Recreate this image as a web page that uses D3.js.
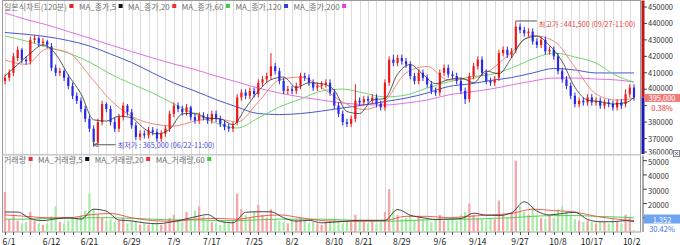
<!DOCTYPE html>
<html>
<head>
<meta charset="utf-8">
<script src="https://d3js.org/d3.v7.min.js"></script>
<style>
  body { margin: 0; background: #fff; }
  svg { display: block; font-family: "Noto Sans CJK KR", "Noto Sans", sans-serif; }
</style>
</head>
<body>
<svg id="svg" width="680" height="245"></svg>
<script>
// 120분봉, 가격은 천원 단위
const opens = [405,407,410,419,424,418,417,430,431,428, 429,426,413,410,411,407,402,396,393,388,
  382,376,368,380,391,388,380,376,383,390, 386,378,371,373,372,375,374,370,373,376,
  385,390,388,386,389,383,381,384,383,381, 385,382,379,377,376,380,395,398,396,399,
  397,404,406,408,414,411,405,399,400,399, 402,408,407,404,401,402,403,404,398,390,
  385,380,379,382,393,392,394,393,395,391, 389,404,418,416,419,417,415,408,405,410,
  407,403,399,398,410,413,409,408,405,399, 394,408,414,418,410,405,404,407,422,424,
  421,424,438,436,434,435,429,427,430,423, 424,420,411,406,402,396,391,393,392,395,
  392,393,390,392,391,389,392,391,397,401];
const highs = [409,412,422,426,425,420,432,433,432,431, 430,428,415,413,412,409,404,398,395,390,
  384,378,382,393,392,390,383,385,392,391, 388,380,375,375,377,377,376,375,378,387,
  392,392,390,391,390,385,386,386,385,387, 387,384,381,379,380,397,400,400,401,401,
  406,408,410,422,416,413,407,402,402,404, 410,410,409,406,404,405,406,406,400,392,
  387,382,384,403,395,396,396,397,397,393, 406,420,421,421,421,419,417,410,412,412,
  409,405,401,412,415,415,411,410,407,401, 410,416,420,420,412,407,408,424,426,426,
  425,441.5,440,438,437,437,431,432,432,426, 426,422,413,408,404,398,395,395,397,397,
  395,395,394,394,393,394,394,400,403,403];
const lows = [403,405,408,417,416,415,415,428,426,426, 425,411,408,408,405,400,394,391,386,380,
  374,365,366,378,386,378,374,374,381,384, 376,369,369,370,370,372,368,368,371,374,
  383,386,384,384,381,379,379,381,379,379, 380,377,375,374,374,378,393,394,394,395,
  395,402,404,406,409,403,397,397,397,397, 400,405,402,399,399,400,401,396,388,383,
  378,377,377,380,390,390,391,391,389,387, 387,402,414,414,415,413,406,403,403,405,
  401,397,396,396,408,407,406,403,397,391, 392,406,412,408,403,402,402,405,420,419,
  419,422,434,432,432,427,425,425,421,421, 418,409,404,400,394,389,389,390,390,390,
  390,388,388,389,387,387,388,389,395,393];
const closes = [407,410,420,424,418,417,430,431,428,429, 427,413,410,411,407,402,396,393,388,382,
  376,368,380,391,388,380,376,383,390,386, 378,371,373,372,375,374,370,373,376,385,
  390,388,386,389,383,381,384,383,381,385, 382,379,377,376,378,395,398,396,399,397,
  404,406,408,414,411,405,399,400,399,402, 408,407,404,401,402,403,404,398,390,385,
  380,379,382,393,392,394,393,395,391,389, 404,418,416,419,417,415,408,405,410,407,
  403,399,398,410,413,409,408,405,399,394, 408,414,418,410,405,404,406,422,424,421,
  423,438,436,434,435,429,427,430,423,424, 420,411,406,402,396,391,393,392,395,392,
  393,390,392,391,389,392,390,397,401,395];
// 거래량, 천주 단위
const volumes = [28,9,12,8,6,7,14,8,6,5, 6,11,18,7,6,8,9,10,12,15,
  27,16,12,10,8,9,7,8,10,6, 8,7,5,6,5,6,7,5,6,10,
  12,8,7,14,9,15,18,11,8,7, 6,5,7,6,8,27,16,12,10,14,
  19,12,10,16,9,8,7,6,8,9, 10,8,6,7,6,5,7,8,9,7,
  6,8,7,12,8,7,6,8,6,7, 14,30,16,12,9,10,12,8,11,9,
  8,7,9,12,8,9,10,8,12,14, 20,12,10,9,8,10,9,22,12,10,
  14,50,18,14,12,18,11,10,9,12, 10,16,18,14,12,9,8,7,8,7,
  6,8,7,6,9,7,6,12,10,1.352];

// 이동평균: ma5 는 3봉마다, 나머지는 5봉마다, 마지막 값은 마지막 봉
const ma5 = [408,415,421.8,427,421.4,408.6,397.2,381.4,380.6,383.6,382.6,376,372.8,375.6,385,385.4,382.4,382,378.4,388.6,
  398.8,405.8,407.4,401,404,403.4,399.4,386.4,385.2,393.4,394.4,409.2,415,409,403.4,405.8,406.8,404,411,409.4,
  419.2,430.4,432.2,426.6,416.8,401.2,393.4,392.4,391,391.8,395];
const ma20 = [417.8,415.1,424.6,422.3,408.3,393.4,383.5,379,377.6,380.7,382.2,380,392.2,405.6,407.4,401,392.2,387.7,392.8,409.9,
  413.8,405.6,406.2,411.7,422.6,432.7,429.3,413.5,397.1,393.4,394.6];
const ma60 = [432.4,429.3,425.7,422,416.5,409.2,403.2,397.7,391,384.9,379.4,376.4,382.5,389.2,394,398.9,400.1,397.7,395.3,396.5,
  400.7,404.4,407.4,408.9,412.9,418.4,422,419.6,415.9,408,404.4];
const ma120 = [434.5,433.4,431.9,429.6,426.3,421.4,416.2,409.9,403.8,398.9,393.7,389.2,385.2,384.6,385.2,386.7,388.6,390.4,392.5,394.6,
  397.7,401.6,403.2,405.3,407.1,409.9,412.6,411.7,409.9,409.9,409.9];
const ma200 = [446.4,442.4,439.1,435.1,431.1,426.9,422.9,419,415.3,412,408,404.4,400.7,397.7,395.3,393.4,391.6,390.7,390.4,391.6,
  393.4,396.5,398.3,400.1,402.6,405,406.8,406.8,406.2,405.6,404.4];
const volMa5 = [14,14,9.4,8,9.2,10,9,16,14.6,8.4,7.8,6.4,5.8,6.8,8.6,10.6,12.2,7.4,6.4,13.8,
  14.2,14.2,10,7.6,8.2,6.4,7,7.6,8.2,8.2,8.2,15.8,11.8,10,8.8,9,9.4,13.2,11.8,11.6,
  13.4,21.2,14.6,12,13,13.8,8.8,7.2,7.2,8,7.3];
const volMa20 = [12,11,10,10,12,13,10,8,7.5,9,9.5,9,11,12,10,8,7.5,7.5,8,11,
  11,10,11,12,13,16,15,14,11,9,8];
const volMa60 = [9,9,9.5,9.5,10,10,9.5,9,8.5,8.5,8,8,8.5,9,9,9,8.5,8,7.5,8,
  8.5,9,9,9.5,10,11,11.5,11.5,11,10.5,10];

const dateLabels = ["6/1","6/12","6/21","6/29","7/9","7/17","7/25","8/2","8/10","8/21","8/29","9/6","9/14","9/27","10/8","10/17","10/25"];
const dateBars = [0,11,20,30,40,49,59,68,78,85,94,103,112,122,131,139,149];
const priceTicks = [360,370,380,390,400,410,420,430,440,450];
const volTicks = [10,20,30,40,50];

const svg = d3.select("#svg");
const N = closes.length;
const L = 2.5, R = 640.5, axisX = 643;
const pTop = 0.5, pBot = 154, vTop = 155.5, vBot = 232;

const x = d3.scaleLinear().domain([0, N - 1]).range([5, 634]);
const y = d3.scaleLinear().domain([360, 450]).range([155, 7]);
const vy = d3.scaleLinear().domain([0, 50]).range([vBot, 160.7]);
const bw = 2.2;

svg.append("rect").attr("width", 680).attr("height", 245).attr("fill", "#fff");

const defs = svg.append("defs");
defs.append("clipPath").attr("id", "pclip").append("rect")
  .attr("x", L).attr("y", pTop).attr("width", R - L).attr("height", pBot - pTop);
defs.append("clipPath").attr("id", "vclip").append("rect")
  .attr("x", L).attr("y", vTop).attr("width", R - L).attr("height", vBot - vTop);
defs.append("clipPath").attr("id", "aclip").append("rect")
  .attr("x", 640).attr("y", 0).attr("width", 40).attr("height", pBot + 0.5);
defs.append("clipPath").attr("id", "xclip").append("rect")
  .attr("x", 0).attr("y", 232).attr("width", 641).attr("height", 13);
defs.append("marker").attr("id", "arr").attr("viewBox", "0 0 6 6").attr("refX", 1).attr("refY", 3)
  .attr("markerWidth", 5).attr("markerHeight", 5).attr("orient", "auto")
  .append("path").attr("d", "M6,0L0,3L6,6").attr("fill", "none").attr("stroke", "#555");

// vertical grid
const gridBars = d3.range(0, N, 2);
svg.append("g").selectAll("line").data(gridBars).join("line")
  .attr("x1", i => Math.round(x(i)) + 0.5).attr("x2", i => Math.round(x(i)) + 0.5)
  .attr("y1", pTop).attr("y2", vBot)
  .attr("stroke", "#dcdcdc").attr("stroke-width", 1);

// frames
svg.append("rect").attr("x", L).attr("y", pTop).attr("width", R - L).attr("height", vBot - pTop)
  .attr("fill", "none").attr("stroke", "#9a9a9a");
svg.append("rect").attr("x", L).attr("y", pBot).attr("width", R - L).attr("height", vTop - pBot)
  .attr("fill", "#c8c8c8");

// price panel
const pg = svg.append("g").attr("clip-path", "url(#pclip)");
const maLine = (arr, step) => d3.line()
  .x((d, k) => x(Math.min(k * step, N - 1))).y(d => y(d))
  .curve(d3.curveMonotoneX)(arr);

[[ma200, 5, "#e46ee4"], [ma120, 5, "#4a56cc"], [ma60, 5, "#6fd66f"], [ma20, 5, "#f08a78"]]
  .forEach(([arr, step, c]) => {
    pg.append("path").attr("d", maLine(arr, step)).attr("fill", "none").attr("stroke", c).attr("stroke-width", 1);
  });

const up = i => closes[i] >= opens[i];
const candles = pg.append("g").selectAll("g").data(d3.range(N)).join("g");
candles.append("line")
  .attr("x1", i => x(i)).attr("x2", i => x(i))
  .attr("y1", i => y(highs[i])).attr("y2", i => y(lows[i]))
  .attr("stroke", i => up(i) ? "#f01818" : "#2828e8").attr("stroke-width", 1);
candles.append("rect")
  .attr("x", i => x(i) - bw / 2).attr("width", bw)
  .attr("y", i => y(Math.max(opens[i], closes[i])))
  .attr("height", i => Math.max(1, Math.abs(y(opens[i]) - y(closes[i]))))
  .attr("fill", i => up(i) ? "#f01818" : "#2828e8");

pg.append("path").attr("d", maLine(ma5, 3)).attr("fill", "none").attr("stroke", "#333").attr("stroke-width", 0.8);

// high / low marks
const hiIdx = d3.maxIndex(highs), loIdx = d3.minIndex(lows);
svg.append("line").attr("x1", x(hiIdx)).attr("x2", x(hiIdx) + 21)
  .attr("y1", y(highs[hiIdx])).attr("y2", y(highs[hiIdx])).attr("stroke", "#555");
svg.append("text").attr("x", x(hiIdx) + 23).attr("y", y(highs[hiIdx]) + 3)
  .attr("dominant-baseline", "central").attr("font-size", 7.2).attr("fill", "#e8403c")
  .text("최고가 : 441,500 (09/27-11:00)");
svg.append("line").attr("x1", x(loIdx) + 1).attr("x2", x(loIdx) + 22)
  .attr("y1", y(lows[loIdx]) - 2).attr("y2", y(lows[loIdx]) - 2).attr("stroke", "#555")
  .attr("marker-start", "url(#arr)");
svg.append("line").attr("x1", x(loIdx)).attr("x2", x(loIdx))
  .attr("y1", y(lows[loIdx]) - 7).attr("y2", y(lows[loIdx]) - 2).attr("stroke", "#555");
svg.append("text").attr("x", x(loIdx) + 24).attr("y", y(lows[loIdx]) - 2)
  .attr("dominant-baseline", "central").attr("font-size", 7.2).attr("fill", "#4848e0")
  .text("최저가 : 365,000 (06/22-11:00)");

// volume panel
const vg = svg.append("g").attr("clip-path", "url(#vclip)");
vg.selectAll("rect").data(d3.range(N)).join("rect")
  .attr("x", i => x(i) - 1.1).attr("width", 2.2)
  .attr("y", i => vy(volumes[i])).attr("height", i => vBot - vy(volumes[i]))
  .attr("fill", i => up(i) ? "#f4a4a4" : "#a6eca6");
const vLine = (arr, step) => d3.line()
  .x((d, k) => x(Math.min(k * step, N - 1))).y(d => vy(d))
  .curve(d3.curveMonotoneX)(arr);
[[volMa60, 5, "#3ccf3c"], [volMa20, 5, "#ee4a4a"], [volMa5, 3, "#333"]].forEach(([arr, step, c]) => {
  vg.append("path").attr("d", vLine(arr, step)).attr("fill", "none").attr("stroke", c).attr("stroke-width", 0.9);
});

// legends
function legend(items, ly) {
  let lx = 4;
  const g = svg.append("g");
  items.forEach(([label, c]) => {
    const t = g.append("text").attr("x", lx).attr("y", ly).attr("dominant-baseline", "central")
      .attr("font-size", 8).attr("fill", "#707070").text(label);
    lx += t.node().getComputedTextLength() + 2.5;
    g.append("rect").attr("x", lx).attr("y", ly - 2).attr("width", 4).attr("height", 4).attr("fill", c);
    lx += 9.5;
  });
}
legend([["일본식차트(120분)", "#ee1c1c"], ["MA_종가,5", "#111"], ["MA_종가,20", "#ee3030"],
  ["MA_종가,60", "#3ccf3c"], ["MA_종가,120", "#3040d0"], ["MA_종가,200", "#e040e0"]], 6);
legend([["거래량", "#ee3030"], ["MA_거래량,5", "#111"], ["MA_거래량,20", "#ee3030"], ["MA_거래량,60", "#3ccf3c"]], 159);

// right axis
const curY = y(closes[N - 1]);
const curV = Math.min(vy(volumes[N - 1]), vBot - 13);
svg.append("line").attr("x1", axisX).attr("x2", axisX).attr("y1", pTop).attr("y2", curY)
  .attr("stroke", "#c01818").attr("stroke-width", 3);
svg.append("line").attr("x1", axisX).attr("x2", axisX).attr("y1", curY).attr("y2", pBot)
  .attr("stroke", "#1818b8").attr("stroke-width", 3);
svg.append("line").attr("x1", axisX).attr("x2", axisX).attr("y1", vTop).attr("y2", vBot)
  .attr("stroke", "#555").attr("stroke-width", 1);

const pAxis = svg.append("g").attr("clip-path", "url(#aclip)");
priceTicks.forEach(t => {
  const ty = Math.min(y(t), 152);
  pAxis.append("line").attr("x1", axisX).attr("x2", axisX + 4).attr("y1", ty).attr("y2", ty).attr("stroke", "#444");
  if (ty > curY - 7 && ty < curY + 16) return;   // 현재가 표시에 가려짐
  const ly = (ty < curY && ty > curY - 12) ? curY - 10 : ty - 0.5;  // 박스 바로 위면 살짝 올림
  pAxis.append("text").attr("x", axisX + 5).attr("y", ly).attr("dominant-baseline", "central")
    .attr("font-size", 7.5).attr("fill", "#333").text(d3.format("d")(t * 1000));
});
const vAxis = svg.append("g");
volTicks.forEach(t => {
  const ty = vy(t);
  vAxis.append("line").attr("x1", axisX).attr("x2", axisX + 4).attr("y1", ty).attr("y2", ty).attr("stroke", "#444");
  if (ty > curV - 8 && ty < curV + 16) return;
  vAxis.append("text").attr("x", axisX + 5).attr("y", ty + 1).attr("dominant-baseline", "central")
    .attr("font-size", 7.5).attr("fill", "#333").text(d3.format("d")(t * 1000));
});

// panel close icon
svg.append("rect").attr("x", 673.5).attr("y", 150.5).attr("width", 6).attr("height", 6)
  .attr("fill", "#eee").attr("stroke", "#888");
svg.append("path").attr("d", "M675,152L678,155M678,152L675,155").attr("stroke", "#555").attr("stroke-width", 0.8);

// current price / volume boxes
svg.append("rect").attr("x", 644).attr("y", curY - 3.5).attr("width", 36).attr("height", 8).attr("fill", "#f07a78");
svg.append("text").attr("x", 662).attr("y", curY + 0.5).attr("text-anchor", "middle").attr("dominant-baseline", "central")
  .attr("font-size", 7.5).attr("fill", "#fff").text(d3.format(",")(closes[N - 1] * 1000));
svg.append("text").attr("x", 662).attr("y", curY + 10).attr("text-anchor", "middle").attr("dominant-baseline", "central")
  .attr("font-size", 7.5).attr("fill", "#e83030").text("0.38%");

svg.append("rect").attr("x", 644).attr("y", curV - 4.5).attr("width", 36).attr("height", 9).attr("fill", "#6fa4f2");
svg.append("text").attr("x", 662).attr("y", curV).attr("text-anchor", "middle").attr("dominant-baseline", "central")
  .attr("font-size", 7.5).attr("fill", "#fff").text(d3.format(",")(Math.round(volumes[N - 1] * 1000)));
svg.append("text").attr("x", 662).attr("y", curV + 9.5).attr("text-anchor", "middle").attr("dominant-baseline", "central")
  .attr("font-size", 7.5).attr("fill", "#3a78e0").text("30.42%");

// x axis
const xg = svg.append("g");
gridBars.forEach(i => {
  xg.append("line").attr("x1", Math.round(x(i)) + 0.5).attr("x2", Math.round(x(i)) + 0.5)
    .attr("y1", vBot).attr("y2", vBot + 3).attr("stroke", "#555");
});
xg.append("g").attr("clip-path", "url(#xclip)").selectAll("text").data(dateLabels).join("text")
  .attr("x", (d, k) => Math.max(x(dateBars[k]), 9)).attr("y", 240.5)
  .attr("text-anchor", "middle").attr("dominant-baseline", "central")
  .attr("font-size", 8.5).attr("fill", "#222").text(d => d);
</script>
</body>
</html>
